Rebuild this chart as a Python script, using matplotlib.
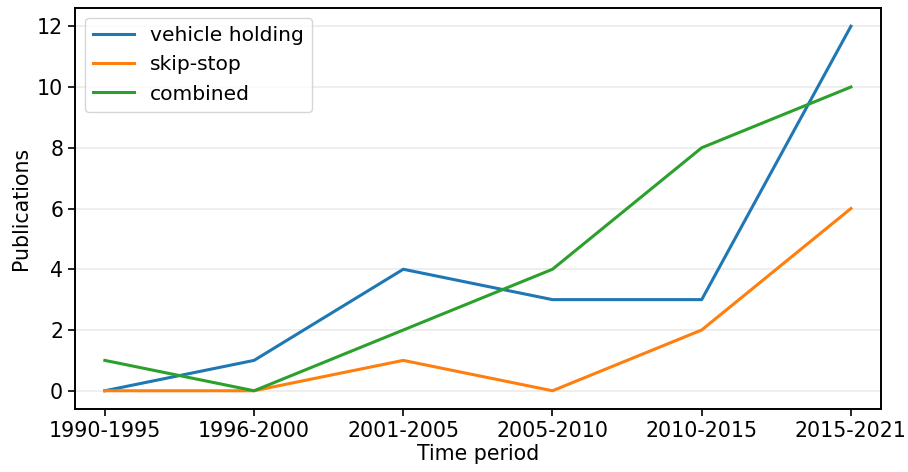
import matplotlib
matplotlib.use("Agg")
import matplotlib.pyplot as plt

periods = ["1990-1995", "1996-2000", "2001-2005", "2005-2010", "2010-2015", "2015-2021"]
vehicle_holding = [0, 1, 4, 3, 3, 12]
skip_stop = [0, 0, 1, 0, 2, 6]
combined = [1, 0, 2, 4, 8, 10]

fig, ax = plt.subplots(figsize=(9.08, 4.72), dpi=100)
fig.subplots_adjust(left=0.0826, right=0.970, bottom=0.1335, top=0.983)

x = list(range(len(periods)))
ax.plot(x, vehicle_holding, color="#1f77b4", lw=2.2, label="vehicle holding")
ax.plot(x, skip_stop, color="#ff7f0e", lw=2.2, label="skip-stop")
ax.plot(x, combined, color="#2ca02c", lw=2.2, label="combined")

ax.set_xticks(x)
ax.set_xticklabels(periods)
ax.margins(x=0.04)
ax.set_yticks([0, 2, 4, 6, 8, 10, 12])
ax.tick_params(labelsize=14.8, width=1.2, length=5)
ax.grid(axis="y", color="#ebebeb", lw=1.2)
ax.set_axisbelow(True)
ax.set_xlabel("Time period", fontsize=14.8, labelpad=2)
ax.set_ylabel("Publications", fontsize=14.8)
for s in ax.spines.values():
    s.set_linewidth(1.4)
ax.legend(loc="upper left", fontsize=14.6)

plt.savefig("out.png", dpi=100)
plt.close()
